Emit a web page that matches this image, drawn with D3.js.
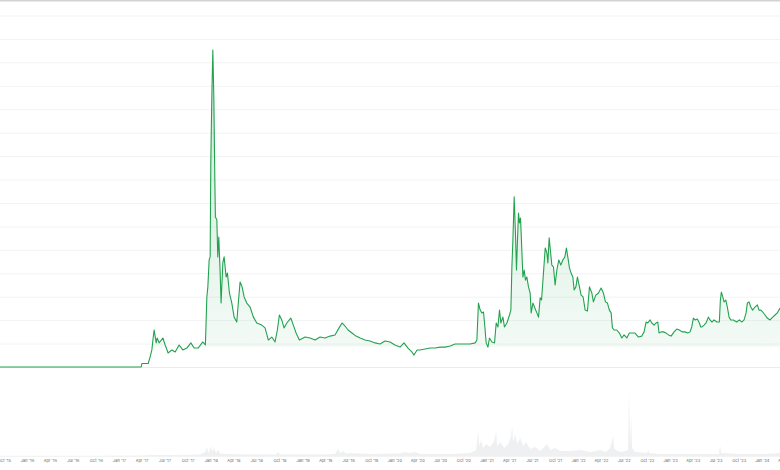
<!DOCTYPE html>
<html><head><meta charset="utf-8">
<script src="https://cdn.jsdelivr.net/npm/d3@7"></script>
<style>html,body{margin:0;padding:0;background:#fff}svg{display:block}</style>
</head><body><svg id="c" width="780" height="470"></svg>
<script>
// ---- data (dates as decimal years) ----
const priceDates = [2015.707,2016.142,2016.577,2017.013,2017.241,2017.249,2017.318,2017.339,2017.358,2017.372,2017.383,2017.405,2017.416,2017.437,2017.478,2017.503,2017.535,2017.576,2017.612,2017.655,2017.695,2017.739,2017.783,2017.818,2017.862,2017.913,2017.941,2017.957,2017.968,2017.982,2017.993,2018.000,2018.011,2018.022,2018.033,2018.044,2018.050,2018.066,2018.076,2018.087,2018.101,2018.112,2018.131,2018.145,2018.167,2018.181,2018.203,2018.229,2018.254,2018.283,2018.305,2018.319,2018.341,2018.363,2018.392,2018.428,2018.464,2018.501,2018.555,2018.591,2018.627,2018.664,2018.700,2018.725,2018.747,2018.773,2018.798,2018.828,2018.871,2018.899,2018.929,2018.965,2019.027,2019.081,2019.136,2019.190,2019.244,2019.299,2019.353,2019.397,2019.430,2019.462,2019.495,2019.538,2019.582,2019.626,2019.680,2019.734,2019.789,2019.843,2019.898,2019.952,2020.006,2020.061,2020.104,2020.148,2020.191,2020.213,2020.246,2020.279,2020.333,2020.388,2020.442,2020.496,2020.551,2020.605,2020.660,2020.714,2020.823,2020.877,2020.896,2020.913,2020.932,2020.950,2020.968,2020.979,2020.997,2021.016,2021.033,2021.059,2021.088,2021.106,2021.125,2021.142,2021.157,2021.179,2021.196,2021.223,2021.251,2021.266,2021.277,2021.288,2021.302,2021.316,2021.327,2021.338,2021.349,2021.360,2021.371,2021.381,2021.397,2021.411,2021.425,2021.440,2021.458,2021.476,2021.487,2021.506,2021.527,2021.549,2021.567,2021.585,2021.600,2021.621,2021.640,2021.658,2021.669,2021.683,2021.694,2021.712,2021.730,2021.748,2021.767,2021.788,2021.810,2021.832,2021.854,2021.871,2021.886,2021.904,2021.922,2021.941,2021.955,2021.974,2021.991,2022.013,2022.031,2022.053,2022.075,2022.100,2022.122,2022.148,2022.165,2022.191,2022.220,2022.249,2022.274,2022.296,2022.318,2022.339,2022.358,2022.372,2022.391,2022.420,2022.448,2022.474,2022.499,2022.529,2022.557,2022.586,2022.619,2022.655,2022.692,2022.717,2022.739,2022.757,2022.782,2022.801,2022.826,2022.848,2022.866,2022.880,2022.902,2022.927,2022.957,2022.982,2023.011,2023.044,2023.073,2023.101,2023.131,2023.163,2023.193,2023.218,2023.236,2023.254,2023.272,2023.297,2023.319,2023.334,2023.349,2023.370,2023.392,2023.417,2023.436,2023.457,2023.479,2023.509,2023.537,2023.548,2023.559,2023.574,2023.588,2023.607,2023.624,2023.643,2023.661,2023.689,2023.726,2023.755,2023.781,2023.806,2023.828,2023.842,2023.860,2023.879,2023.900,2023.925,2023.951,2023.969,2023.988,2024.009,2024.034,2024.059,2024.089,2024.118,2024.143,2024.168,2024.197];
const priceValues = [0.002,0.002,0.002,0.002,0.002,0.017,0.017,0.045,0.075,0.126,0.160,0.105,0.126,0.105,0.126,0.096,0.062,0.075,0.066,0.096,0.075,0.083,0.105,0.083,0.083,0.109,0.096,0.301,0.344,0.459,0.472,0.873,1.154,1.355,1.154,0.800,0.642,0.630,0.472,0.557,0.416,0.275,0.446,0.472,0.386,0.403,0.318,0.275,0.215,0.194,0.301,0.365,0.344,0.301,0.275,0.258,0.215,0.190,0.181,0.169,0.117,0.130,0.109,0.160,0.224,0.203,0.169,0.190,0.211,0.181,0.147,0.117,0.130,0.126,0.117,0.130,0.126,0.134,0.139,0.169,0.190,0.177,0.160,0.147,0.134,0.126,0.117,0.113,0.105,0.100,0.113,0.109,0.096,0.087,0.105,0.083,0.066,0.053,0.075,0.075,0.079,0.083,0.083,0.087,0.087,0.092,0.100,0.100,0.100,0.105,0.117,0.275,0.245,0.233,0.237,0.190,0.105,0.087,0.126,0.109,0.105,0.190,0.173,0.245,0.190,0.215,0.173,0.190,0.224,0.245,0.429,0.544,0.728,0.574,0.416,0.544,0.659,0.617,0.638,0.544,0.386,0.416,0.373,0.386,0.344,0.318,0.233,0.275,0.254,0.233,0.215,0.297,0.288,0.403,0.510,0.489,0.446,0.553,0.510,0.437,0.429,0.352,0.416,0.459,0.437,0.459,0.472,0.510,0.472,0.425,0.403,0.386,0.331,0.344,0.386,0.344,0.309,0.301,0.245,0.241,0.344,0.318,0.280,0.309,0.318,0.339,0.318,0.280,0.275,0.245,0.233,0.169,0.160,0.160,0.147,0.126,0.139,0.126,0.147,0.147,0.147,0.130,0.134,0.152,0.194,0.190,0.203,0.190,0.181,0.190,0.194,0.147,0.152,0.152,0.147,0.139,0.134,0.152,0.164,0.160,0.152,0.152,0.147,0.152,0.173,0.211,0.203,0.207,0.190,0.173,0.173,0.181,0.190,0.215,0.203,0.194,0.203,0.194,0.194,0.288,0.322,0.301,0.280,0.288,0.258,0.215,0.203,0.203,0.194,0.203,0.194,0.203,0.233,0.275,0.280,0.258,0.245,0.258,0.267,0.245,0.245,0.237,0.224,0.211,0.203,0.215,0.224,0.233,0.254];
const volumeDates = [2015.707,2016.795,2017.231,2017.339,2017.666,2017.884,2017.938,2017.960,2017.971,2017.993,2018.004,2018.014,2018.036,2018.058,2018.080,2018.101,2018.210,2018.374,2018.537,2018.711,2018.733,2018.755,2018.972,2019.190,2019.353,2019.386,2019.408,2019.440,2019.473,2019.517,2019.734,2020.061,2020.115,2020.170,2020.224,2020.279,2020.605,2020.823,2020.888,2020.910,2020.921,2020.943,2020.964,2020.997,2021.041,2021.084,2021.106,2021.117,2021.150,2021.193,2021.237,2021.269,2021.280,2021.291,2021.313,2021.335,2021.367,2021.400,2021.433,2021.476,2021.531,2021.585,2021.639,2021.661,2021.694,2021.748,2021.803,2021.912,2022.020,2022.129,2022.238,2022.303,2022.347,2022.380,2022.390,2022.423,2022.478,2022.543,2022.554,2022.565,2022.576,2022.586,2022.619,2022.750,2022.761,2022.771,2022.891,2023.109,2023.327,2023.533,2023.544,2023.555,2023.762,2023.980,2024.197];
const volumeValues = [0.3,0.3,0.5,1,1,1.5,4,9,3,7,10,4,8,3,6,2.5,2,1.5,1.5,1.5,4,1.5,1.5,1.5,2,7,3,5,2.5,3,2,2.5,4,3,4,2,2,3,6,25,10,16,8,12,9,15,25,10,14,8,12,20,30,14,22,12,18,10,14,7,9,5,10,12,6,8,5,5,6,4,6,4,8,20,8,5,4,6,65,12,40,8,4,3,7,3,2,2,2,2,11,3,2,2,3];
const tickLabels = ["Oct '15","Jan '16","Apr '16","Jul '16","Oct '16","Jan '17","Apr '17","Jul '17","Oct '17","Jan '18","Apr '18","Jul '18","Oct '18","Jan '19","Apr '19","Jul '19","Oct '19","Jan '20","Apr '20","Jul '20","Oct '20","Jan '21","Apr '21","Jul '21","Oct '21","Jan '22","Apr '22","Jul '22","Oct '22","Jan '23","Apr '23","Jul '23","Oct '23","Jan '24","Apr '24"];
const gridValues = [0,0.1,0.2,0.3,0.4,0.5,0.6,0.7,0.8,0.9,1.0,1.1,1.2,1.3,1.4,1.5];
const fillBaseValue = 0.0875;
const domainStart = 2015.7065, domainEnd = 2024.197;

// ---- helpers ----
function ydate(t){const y=Math.floor(t);const a=new Date(y,0,1),b=new Date(y+1,0,1);return new Date(+a+(t-y)*(b-a));}
const W=780,H=470;
const svg=d3.select("#c");
const x=d3.scaleTime().domain([ydate(domainStart),ydate(domainEnd)]).range([0,W]);
const y=d3.scaleLinear().domain([0,1.5]).range([367.5,16]);
const yv=d3.scaleLinear().domain([0,70]).range([456,386]);

const price=priceDates.map((d,i)=>({date:ydate(d),v:priceValues[i]}));
const vol=volumeDates.map((d,i)=>({date:ydate(d),v:volumeValues[i]}));

// gradient
const defs=svg.append("defs");
const g=defs.append("linearGradient").attr("id","gf").attr("gradientUnits","userSpaceOnUse")
  .attr("x1",0).attr("x2",0).attr("y1",y(1.36)).attr("y2",y(fillBaseValue));
g.append("stop").attr("offset","0").attr("stop-color","#1a9d49").attr("stop-opacity",0.22);
g.append("stop").attr("offset","1").attr("stop-color","#1a9d49").attr("stop-opacity",0.05);

// gridlines
svg.append("g").selectAll("line").data(gridValues).join("line")
  .attr("x1",0).attr("x2",W).attr("y1",d=>y(d)).attr("y2",d=>y(d))
  .attr("stroke",d=>d===0?"#ececec":"#f3f3f3").attr("stroke-width",1);
svg.append("line").attr("x1",0).attr("x2",W).attr("y1",0.75).attr("y2",0.75)
  .attr("stroke","#d2d2d2").attr("stroke-width",1.5);

// volume
svg.append("path").datum(vol)
  .attr("d",d3.area().x(d=>x(d.date)).y0(yv(0)).y1(d=>yv(d.v)))
  .attr("fill","#e8ebee").attr("fill-opacity",0.75);
svg.append("line").attr("x1",0).attr("x2",W).attr("y1",yv(0)+0.5).attr("y2",yv(0)+0.5)
  .attr("stroke","#f3f3f3");

// price area
svg.append("path").datum(price)
  .attr("d",d3.area().x(d=>x(d.date)).y0(y(fillBaseValue)).y1(d=>y(Math.max(d.v,fillBaseValue))))
  .attr("fill","url(#gf)");
// price line
svg.append("path").datum(price)
  .attr("d",d3.line().x(d=>x(d.date)).y(d=>y(d.v)))
  .attr("fill","none").attr("stroke","#22a24f").attr("stroke-width",1.1).attr("stroke-linejoin","round");

// x axis labels
const parse=d3.timeParse("%b '%y");
const tickDates=tickLabels.map(l=>parse(l));
const axis=d3.axisBottom(x).tickValues(tickDates).tickFormat((d,i)=>tickLabels[i]).tickSize(0).tickPadding(0);
const ax=svg.append("g").attr("transform","translate(0,459)").call(axis);
ax.select(".domain").remove();
ax.selectAll("text").attr("font-size","4px").attr("font-family","Inter, 'Noto Sans', sans-serif").attr("fill","#666");
</script>
</body></html>
